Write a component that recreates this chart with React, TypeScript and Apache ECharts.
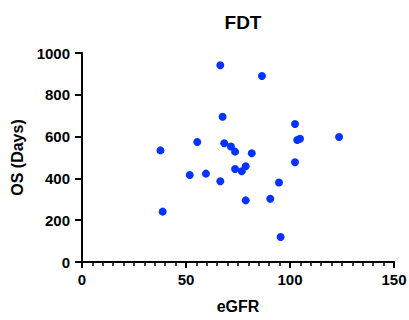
import React, { useEffect, useRef } from "react";
import * as echarts from "echarts";

const title = "FDT";
const xName = "eGFR";
const yName = "OS (Days)";
const egfr = [66.5, 86.5, 67.6, 102.4, 123.6, 103.5, 104.8, 55.4, 37.7, 68.4, 71.6, 73.6, 81.6, 102.4, 51.8, 59.6, 73.6, 78.7, 76.8, 66.5, 94.7, 78.7, 90.5, 38.8, 95.5];
const osDays = [941, 890, 695, 660, 598, 584, 590, 574, 534, 568, 553, 528, 520, 477, 416, 423, 445, 458, 434, 386, 380, 295, 303, 241, 120];

const FONT = "Arial, 'Liberation Sans', Helvetica, sans-serif";

export default function App() {
  const ref = useRef<HTMLDivElement>(null);
  useEffect(() => {
    if (!ref.current) return;
    const chart = echarts.init(ref.current, undefined, { renderer: "svg" });
    const data = egfr.map((x, i) => [x, osDays[i]]);
    chart.setOption({
      animation: false,
      backgroundColor: "#ffffff",
      title: {
        text: title,
        left: 238,
        textAlign: "center",
        top: 8,
        textStyle: { fontFamily: FONT, fontWeight: "bold", fontSize: 19, color: "#000" },
      },
      grid: { left: 82, right: 15, top: 53, bottom: 58, outerBoundsMode: "none" },
      xAxis: {
        type: "value",
        min: 0,
        max: 150,
        interval: 50,
        name: xName,
        nameLocation: "middle",
        nameGap: 36,
        nameTextStyle: { fontFamily: FONT, fontWeight: "bold", fontSize: 16, color: "#000" },
        axisLine: { show: true, lineStyle: { color: "#000", width: 2 } },
        axisTick: { show: true, length: 6, lineStyle: { color: "#000", width: 2 } },
        minorTick: { show: true, splitNumber: 10, length: 4, lineStyle: { color: "#000", width: 1.5 } },
        splitLine: { show: false },
        axisLabel: { margin: 10, fontFamily: FONT, fontWeight: "bold", fontSize: 15, color: "#000", formatter: (v: number) => String(v) },
      },
      yAxis: {
        type: "value",
        min: 0,
        max: 1000,
        interval: 200,
        name: yName,
        nameLocation: "middle",
        nameGap: 54,
        nameTextStyle: { fontFamily: FONT, fontWeight: "bold", fontSize: 16, color: "#000" },
        axisLine: { show: true, lineStyle: { color: "#000", width: 2 } },
        axisTick: { show: true, length: 7, lineStyle: { color: "#000", width: 2 } },
        splitLine: { show: false },
        axisLabel: { margin: 12, fontFamily: FONT, fontWeight: "bold", fontSize: 15, color: "#000", formatter: (v: number) => String(v) },
      },
      series: [
        {
          type: "scatter",
          data,
          symbol: "circle",
          symbolSize: 8,
          itemStyle: { color: "#0433FF", opacity: 1 },
        },
      ],
    });
    return () => chart.dispose();
  }, []);
  return (
    <div
      ref={ref}
      style={{ position: "fixed", left: 0, top: 0, width: 409, height: 320 }}
    />
  );
}
